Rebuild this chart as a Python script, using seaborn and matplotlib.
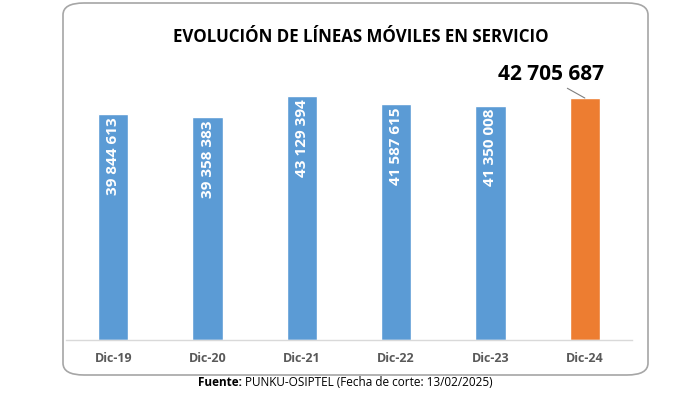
import matplotlib
matplotlib.use("Agg")
import matplotlib.pyplot as plt
import seaborn as sns
import pandas as pd
from matplotlib.patches import FancyBboxPatch

# datos
periodos = ["Dic-19", "Dic-20", "Dic-21", "Dic-22", "Dic-23", "Dic-24"]
lineas = [39844613, 39358383, 43129394, 41587615, 41350008, 42705687]
colores = ["#5B9BD5"] * 5 + ["#ED7D31"]

sns.set_theme(style="white")
plt.rcParams["font.family"] = ["Open Sans", "DejaVu Sans"]

df = pd.DataFrame({"periodo": periodos, "lineas": lineas})

fig = plt.figure(figsize=(7, 3.95), dpi=100)
ax = fig.add_axes([66 / 700, 1 - 340 / 395, 566 / 700, 285 / 395])

sns.barplot(data=df, x="periodo", y="lineas", hue="periodo", palette=colores,
            width=0.32, legend=False, ax=ax, saturation=1)

ax.set_ylim(0, 50.3e6)
ax.set_xlim(-0.5, len(periodos) - 0.5)
ax.set_yticks([])
ax.set_xlabel("")
ax.set_ylabel("")
for s in ["top", "right", "left"]:
    ax.spines[s].set_visible(False)
ax.spines["bottom"].set_color("#D9D9D9")
ax.spines["bottom"].set_linewidth(1)
ax.tick_params(axis="x", length=0, pad=9)
for lbl in ax.get_xticklabels():
    lbl.set_fontweight("bold")
    lbl.set_color("#595959")
    lbl.set_fontsize(9)


def fmt(v):
    return f"{v:,}".replace(",", " ")


# etiquetas dentro de las barras
for i, v in enumerate(lineas[:-1]):
    ax.text(i, v - 0.6e6, fmt(v), rotation=90, ha="center", va="top",
            color="white", fontweight="bold", fontsize=11)

# etiqueta grande del ultimo periodo con linea guia
ult = len(lineas) - 1
ax.annotate(fmt(lineas[ult]), xy=(ult, lineas[ult]), xytext=(ult - 0.36, lineas[ult] + 2.3e6),
            ha="center", va="bottom", fontsize=15, fontweight="bold", color="black",
            arrowprops=dict(arrowstyle="-", color="#7F7F7F", lw=0.8,
                            shrinkA=0, shrinkB=0, relpos=(0.6, 0)))

fig.text(361 / 700, 1 - 37 / 395, "EVOLUCIÓN DE LÍNEAS MÓVILES EN SERVICIO",
         ha="center", va="center", fontsize=12.2, fontweight="bold", color="black")

# recuadro redondeado
caja = FancyBboxPatch((63 / 700, 1 - 375 / 395), 585 / 700, 372 / 395,
                      boxstyle="round,pad=0,rounding_size=0.03",
                      transform=fig.transFigure, fill=False,
                      edgecolor="#A6A6A6", linewidth=1.2)
fig.patches.append(caja)

# fuente
fig.text(242 / 700, 1 - 383 / 395, "Fuente:", ha="right", va="center",
         fontsize=8.5, fontweight="bold", color="black")
fig.text(245 / 700, 1 - 383 / 395, "PUNKU-OSIPTEL (Fecha de corte: 13/02/2025)",
         ha="left", va="center", fontsize=8.5, color="black")

fig.savefig("out.png", dpi=100)
